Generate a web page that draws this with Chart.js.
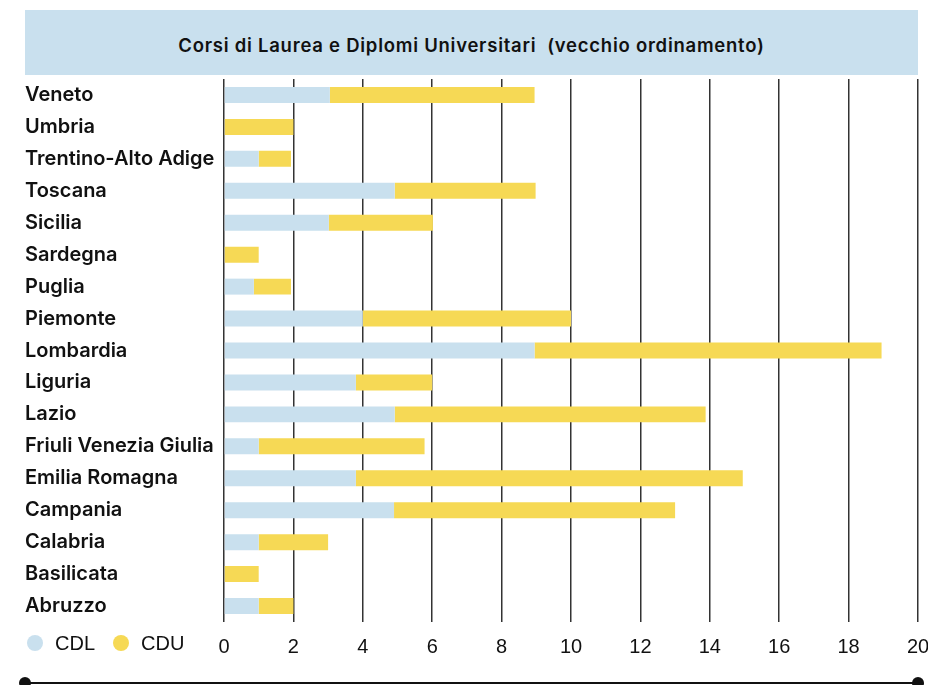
<!DOCTYPE html>
<html>
<head>
<meta charset="utf-8">
<script src="https://cdn.jsdelivr.net/npm/chart.js@4"></script>
<style>
  body { margin: 0; background: #fff; }
  #wrap { position: relative; width: 928px; height: 685px; overflow: hidden; }
  #title {
    position: absolute; left: 25px; top: 10px; width: 893px; height: 65px;
    box-sizing: border-box; padding-top: 5px;
    background: #c9e0ee; color: #111;
    font: 600 18.5px Inter, sans-serif; letter-spacing: 0.75px;
    display: flex; align-items: center; justify-content: center;
    white-space: pre;
  }
  #box { position: absolute; left: 0; top: 79px; width: 928px; height: 582px; }
  #legend {
    position: absolute; left: 27px; top: 631px; height: 24px;
    display: flex; align-items: center;
    font: 20px "Liberation Sans", Arial, sans-serif; color: #111;
  }
  #legend span.dot { width: 16px; height: 16px; border-radius: 50%; display: inline-block; margin-right: 12px; }
  #legend span.txt { margin-right: 18px; }
  #rule { position: absolute; left: 25px; top: 682px; width: 893px; height: 2px; background: #111; }
  .end { position: absolute; top: 677px; width: 12px; height: 12px; border-radius: 50%; background: #111; }
</style>
</head>
<body>
<div id="wrap">
  <div id="title">Corsi di Laurea e Diplomi Universitari  (vecchio ordinamento)</div>
  <div id="box"><canvas id="graph"></canvas></div>
  <div id="legend"></div>
  <div id="rule"></div>
  <div class="end" style="left:19px"></div>
  <div class="end" style="left:912px"></div>
</div>
<script>
const regioni = ['Veneto', 'Umbria', 'Trentino-Alto Adige', 'Toscana', 'Sicilia', 'Sardegna', 'Puglia',
  'Piemonte', 'Lombardia', 'Liguria', 'Lazio', 'Friuli Venezia Giulia', 'Emilia Romagna',
  'Campania', 'Calabria', 'Basilicata', 'Abruzzo']
const cdl = [3.05, 0, 1, 4.92, 3.02, 0, 0.86, 4, 8.95, 3.8, 4.92, 1, 3.8, 4.9, 1, 0, 1]
const cdu = [5.9, 2, 0.93, 4.06, 3, 1, 1.07, 6, 10, 2.2, 8.96, 4.78, 11.15, 8.1, 2, 1, 1]
const serie = ['CDL', 'CDU']
const colori = ['#c9e0ee', '#f6d955']
const xTicks = [0, 2, 4, 6, 8, 10, 12, 14, 16, 18, 20]

// legend row sits next to the x tick labels
const legend = document.getElementById('legend')
serie.forEach((s, i) => {
  legend.innerHTML += `<span class="dot" style="background:${colori[i]}"></span><span class="txt">${s}</span>`
})

new Chart(document.getElementById('graph'), {
  type: 'bar',
  data: {
    labels: regioni,
    datasets: [
      { label: serie[0], data: cdl, backgroundColor: colori[0] },
      { label: serie[1], data: cdu, backgroundColor: colori[1] }
    ]
  },
  options: {
    indexAxis: 'y',
    responsive: true,
    maintainAspectRatio: false,
    animation: false,
    barPercentage: 0.5,
    categoryPercentage: 1,
    layout: { padding: { left: 25, right: 10, top: 0, bottom: 0 } },
    plugins: { legend: { display: false }, title: { display: false }, tooltip: { enabled: false } },
    scales: {
      x: {
        stacked: true,
        min: 0,
        max: 20,
        afterBuildTicks: scale => { scale.ticks = xTicks.map(v => ({ value: v })) },
        afterFit: scale => {
          scale.height = 39
          scale.paddingLeft = 0
          scale.paddingRight = 0
        },
        grid: { color: '#333', lineWidth: 1.5, drawTicks: false },
        border: { display: false },
        ticks: { color: '#111', padding: 13, font: { family: '"Liberation Sans", Arial, sans-serif', size: 20 } }
      },
      y: {
        stacked: true,
        grid: { display: false },
        border: { display: false },
        afterFit: scale => {
          scale.width = 199
          scale.paddingTop = 0
          scale.paddingBottom = 0
        },
        ticks: {
          crossAlign: 'far',
          color: '#111',
          font: { family: 'Inter, sans-serif', size: 20, weight: '600' }
        }
      }
    }
  }
})
</script>
</body>
</html>
